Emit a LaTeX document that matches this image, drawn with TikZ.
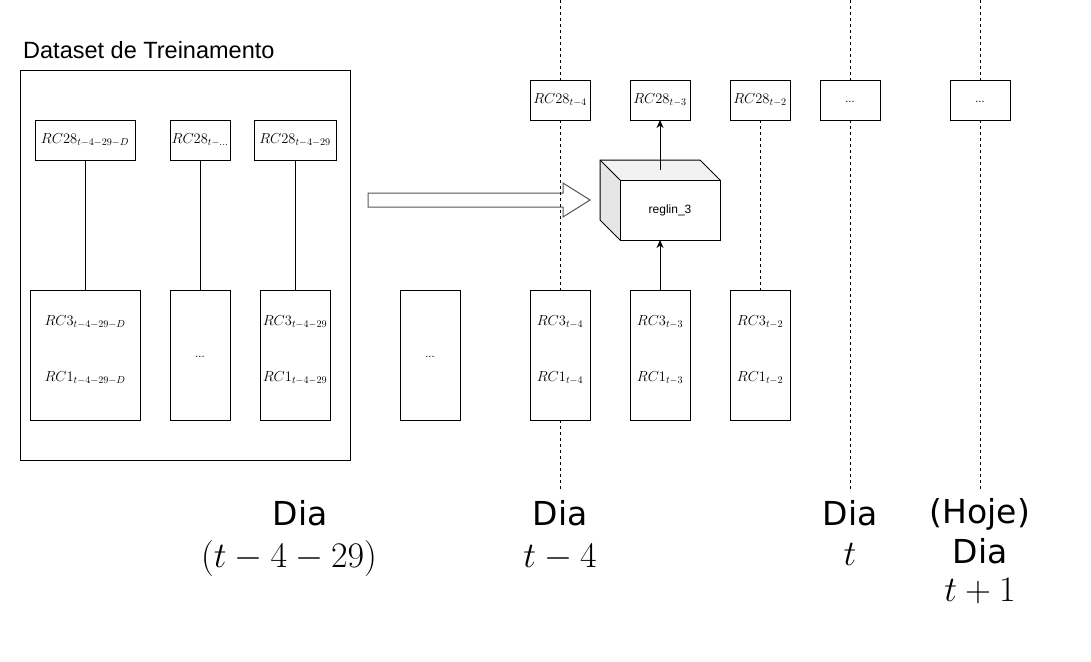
\RequirePackage{fix-cm}
\documentclass[tikz,border=0pt]{standalone}
\usepackage{fontspec}
\newfontfamily\arialf{Liberation Sans}
\newfontfamily\dejaf{DejaVu Sans}
\usetikzlibrary{arrows.meta}
\definecolor{topface}{HTML}{F2F2F2}
\definecolor{sideface}{HTML}{E6E6E6}
\definecolor{arrowline}{HTML}{555555}
\begin{document}
\begin{tikzpicture}[x=1pt,y=-1pt,
  box/.style={draw, line width=1pt, fill=white, inner sep=0pt, outer sep=0pt},
  mathlbl/.style={font=\fontsize{14.5}{17}\selectfont, inner sep=0pt},
  dotslbl/.style={font=\arialf\fontsize{11}{13}\selectfont},
  timeline/.style={draw, line width=0.8pt, dash pattern=on 3pt off 3pt},
  link/.style={draw, line width=1pt},
  arr/.style={link, -{Stealth[length=8pt,width=7pt,inset=2.5pt]}},
  daytext/.style={font=\dejaf\fontsize{33}{40}\selectfont, anchor=base, inner sep=0pt},
  daymath/.style={font=\fontsize{36}{40}\selectfont, anchor=base, inner sep=0pt}]
\useasboundingbox (0,0) rectangle (1091,661);
\fill[white] (0,0) rectangle (1091,661);

% big block arrow
\draw[arrowline, line width=1pt, fill=white, line join=miter]
  (368,193) -- (563,193) -- (563,183) -- (590,200) -- (563,217) -- (563,207) -- (368,207) -- cycle;

% time lines
\coordinate (tl1top) at (560,0);   \coordinate (tl1bot) at (560,490);
\coordinate (tl2top) at (850,0);   \coordinate (tl2bot) at (850,490);
\coordinate (tl3top) at (980,0);   \coordinate (tl3bot) at (980,490);
\draw[timeline] (tl1top) -- (tl1bot);
\draw[timeline] (tl2top) -- (tl2bot);
\draw[timeline] (tl3top) -- (tl3bot);

% dataset frame
\node[anchor=west, inner sep=0pt, font=\arialf\fontsize{23.5}{28}\selectfont] (title) at (23,50) {Dataset de Treinamento};
\node[box, minimum width=330pt, minimum height=390pt] (dataset) at (185,265) {};

% training boxes (top)
\node[box, minimum width=100pt, minimum height=40pt] (a1) at (85,140) {};
\node[mathlbl] (a1t) at (85,140) {$RC28_{t-4-29-D}$};
\node[box, minimum width=60pt, minimum height=40pt] (a2) at (200,140) {};
\node[mathlbl] (a2t) at (200,140) {$RC28_{t-...}$};
\node[box, minimum width=82pt, minimum height=40pt] (a3) at (295,140) {};
\node[mathlbl] (a3t) at (295,140) {$RC28_{t-4-29}$};

% training boxes (bottom)
\node[box, minimum width=110pt, minimum height=130pt] (b1) at (85,355) {};
\node[mathlbl] (b1a) at (85,322) {$RC3_{t-4-29-D}$};
\node[mathlbl] (b1b) at (85,378) {$RC1_{t-4-29-D}$};
\node[box, dotslbl, minimum width=60pt, minimum height=130pt] (b2) at (200,355) {\strut...};
\node[box, minimum width=70pt, minimum height=130pt] (b3) at (295,355) {};
\node[mathlbl] (b3a) at (295,322) {$RC3_{t-4-29}$};
\node[mathlbl] (b3b) at (295,378) {$RC1_{t-4-29}$};
\node[box, dotslbl, minimum width=60pt, minimum height=130pt] (b4) at (430,355) {\strut...};

\draw[link] (a1) -- (b1);
\draw[link] (a2) -- (b2);
\draw[link] (a3) -- (b3);

% right: top boxes
\node[box, minimum width=60pt, minimum height=40pt] (c1) at (560,100) {};
\node[mathlbl] (c1t) at (560,100) {$RC28_{t-4}$};
\node[box, minimum width=60pt, minimum height=40pt] (c2) at (660,100) {};
\node[mathlbl] (c2t) at (660,100) {$RC28_{t-3}$};
\node[box, minimum width=60pt, minimum height=40pt] (c3) at (760,100) {};
\node[mathlbl] (c3t) at (760,100) {$RC28_{t-2}$};
\node[box, dotslbl, minimum width=60pt, minimum height=40pt] (c4) at (850,100) {\strut...};
\node[box, dotslbl, minimum width=60pt, minimum height=40pt] (c5) at (980,100) {\strut...};

% right: bottom boxes
\node[box, minimum width=60pt, minimum height=130pt] (d1) at (560,355) {};
\node[mathlbl] (d1a) at (560,322) {$RC3_{t-4}$};
\node[mathlbl] (d1b) at (560,378) {$RC1_{t-4}$};
\node[box, minimum width=60pt, minimum height=130pt] (d2) at (660,355) {};
\node[mathlbl] (d2a) at (660,322) {$RC3_{t-3}$};
\node[mathlbl] (d2b) at (660,378) {$RC1_{t-3}$};
\node[box, minimum width=60pt, minimum height=130pt] (d3) at (760,355) {};
\node[mathlbl] (d3a) at (760,322) {$RC3_{t-2}$};
\node[mathlbl] (d3b) at (760,378) {$RC1_{t-2}$};

\draw[timeline] (c3.south) -- (d3.north);

% cube reglin_3
\fill[sideface] (600,160) -- (620,180) -- (620,240) -- (600,220) -- cycle;
\fill[topface] (600,160) -- (700,160) -- (720,180) -- (620,180) -- cycle;
\draw[line width=1pt, line join=miter] (600,160) -- (700,160) -- (720,180) -- (720,240) -- (620,240) -- (600,220) -- cycle;
\draw[line width=1pt] (600,160) -- (620,180);
\node[box, minimum width=100pt, minimum height=60pt, font=\arialf\fontsize{12}{14}\selectfont] (reg) at (670,210) {reglin\_3};
\coordinate (regtop) at (660,170);

\draw[arr] (regtop) -- (c2.south);
\draw[arr] (d2.north) -- (d2.north |- reg.south);

% day labels
\node[daytext] (day1) at (300,525) {Dia};
\node[daymath] (day1m) at (289,567) {$(t-4-29)$};
\node[daytext] (day2) at (560,525) {Dia};
\node[daymath] (day2m) at (560,567) {$t-4$};
\node[daytext] (day3) at (850,525) {Dia};
\node[daymath] (day3m) at (850,565) {$t$};
\node[daytext] (day4h) at (980,523) {(Hoje)};
\node[daytext] (day4) at (980,563) {Dia};
\node[daymath] (day4m) at (980,601) {$t+1$};
\end{tikzpicture}
\end{document}
